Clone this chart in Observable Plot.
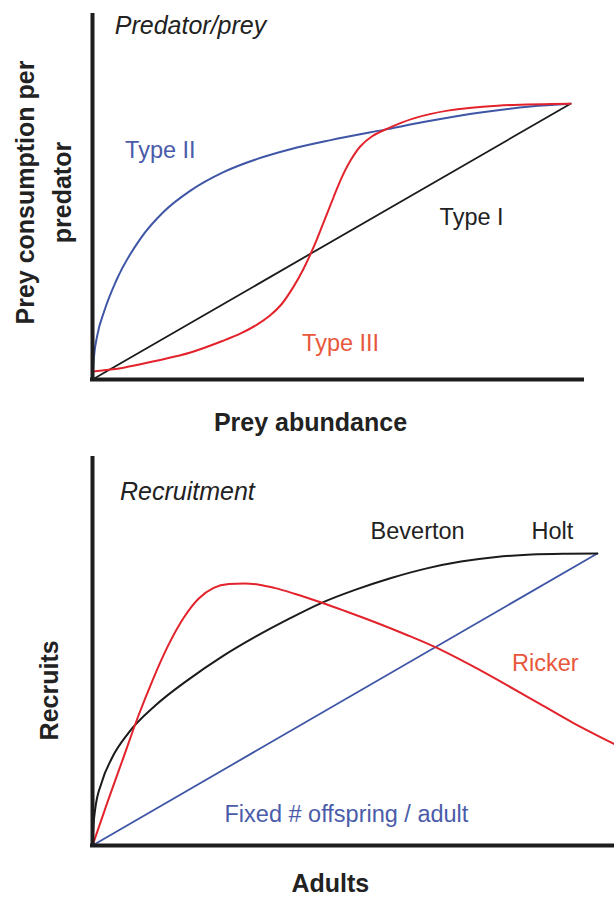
<!DOCTYPE html>
<html><head><meta charset="utf-8">
<script src="https://cdn.jsdelivr.net/npm/d3@7"></script>
<script src="https://cdn.jsdelivr.net/npm/@observablehq/plot@0.6"></script>
<style>
body{margin:0;background:#fff;}
#chart svg{display:block;}
</style></head><body><div id="chart"></div>
<script>
// ---------- Data: top panel (Predator/prey functional responses) ----------
const typeI_x = [0, 1];
const typeI_y = [0, 1];

const typeII_x = [0, 0.003, 0.01, 0.025, 0.05, 0.1, 0.15, 0.205, 0.274, 0.345, 0.414, 0.498, 0.617, 0.707, 0.812, 0.916, 1.0];
const typeII_y = [0, 0.08, 0.16, 0.25, 0.36, 0.51, 0.61, 0.685, 0.752, 0.80, 0.835, 0.868, 0.908, 0.938, 0.968, 0.99, 1.0];

const typeIII_x = [0, 0.065, 0.136, 0.205, 0.274, 0.31, 0.345, 0.37, 0.395, 0.42, 0.441, 0.462, 0.483, 0.504, 0.522, 0.54, 0.56, 0.585, 0.617, 0.672, 0.743, 0.847, 1.0];
const typeIII_y = [0.029, 0.043, 0.069, 0.098, 0.141, 0.167, 0.2, 0.23, 0.272, 0.335, 0.40, 0.478, 0.568, 0.66, 0.735, 0.795, 0.845, 0.882, 0.91, 0.947, 0.975, 0.993, 1.0];

// ---------- Data: bottom panel (Recruitment) ----------
const fixed_x = [0, 1];
const fixed_y = [0, 1];

const bh_x = [0, 0.002, 0.005, 0.018, 0.038, 0.071, 0.125, 0.19, 0.255, 0.323, 0.388, 0.453, 0.52, 0.59, 0.66, 0.73, 0.80, 0.87, 0.94, 1.0];
const bh_y = [0, 0.07, 0.12, 0.215, 0.298, 0.385, 0.48, 0.568, 0.645, 0.715, 0.775, 0.83, 0.875, 0.915, 0.948, 0.972, 0.988, 0.996, 0.999, 1.0];

const ricker_x = [0, 0.03, 0.06, 0.09, 0.12, 0.15, 0.18, 0.21, 0.24, 0.27, 0.30, 0.33, 0.36, 0.40, 0.453, 0.50, 0.556, 0.624, 0.679, 0.754, 0.822, 0.887, 0.952, 1.034];
const ricker_y = [0, 0.15, 0.295, 0.44, 0.57, 0.685, 0.778, 0.845, 0.882, 0.895, 0.897, 0.893, 0.882, 0.862, 0.832, 0.803, 0.767, 0.72, 0.679, 0.613, 0.548, 0.484, 0.42, 0.347];

// ---------- Labels ----------
const topTitle = "Predator/prey";
const topXLabel = "Prey abundance";
const topYLabel = ["Prey consumption per", "predator"];
const botTitle = "Recruitment";
const botXLabel = "Adults";
const botYLabel = "Recruits";

// ---------- Styling ----------
const font = "'Liberation Sans', Arial, Helvetica, sans-serif";
const BLACK = "#1b1b1b", BLUE = "#3f56a6", RED = "#e3232b";
const TXT = "#222", TXT_BLUE = "#4a5ca9", TXT_RED = "#e8573b";
const AXIS = "#1d1d1d";

function pts(xs, ys) { return xs.map((x, i) => ({x, y: ys[i]})); }

function lbl(text, x, y, opts = {}) {
  return Plot.text([text], {
    x, y, text: d => d,
    textAnchor: "middle", lineAnchor: "bottom",
    fontSize: 23.5, fill: TXT, ...opts
  });
}

const topPlot = Plot.plot({
  width: 614, height: 440,
  marginLeft: 92, marginRight: 32, marginTop: 15, marginBottom: 61,
  x: {domain: [0, 1.025], axis: null},
  y: {domain: [0, 1.32], axis: null},
  style: {fontFamily: font, background: "white", overflow: "visible"},
  marks: [
    Plot.line(pts(typeI_x, typeI_y), {x: "x", y: "y", stroke: BLACK, strokeWidth: 1.8}),
    Plot.line(pts(typeII_x, typeII_y), {x: "x", y: "y", stroke: BLUE, strokeWidth: 2, curve: "monotone-x"}),
    Plot.line(pts(typeIII_x, typeIII_y), {x: "x", y: "y", stroke: RED, strokeWidth: 2, curve: "catmull-rom"}),
    Plot.ruleX([0], {stroke: AXIS, strokeWidth: 4, strokeLinecap: "square"}),
    Plot.ruleY([0], {stroke: AXIS, strokeWidth: 4, strokeLinecap: "square"}),
    lbl(topTitle, 0.205, 1.254, {fontStyle: "italic", fontSize: 25}),
    lbl("Type II", 0.142, 0.804, {fill: TXT_BLUE}),
    lbl("Type I", 0.793, 0.562),
    lbl("Type III", 0.519, 0.105, {fill: TXT_RED}),
    lbl(topXLabel, 0.456, -0.185, {fontWeight: "bold", fontSize: 25}),
    lbl(topYLabel[0], -0.123, 0.678, {fontWeight: "bold", fontSize: 25, rotate: -90}),
    lbl(topYLabel[1], -0.046, 0.678, {fontWeight: "bold", fontSize: 25, rotate: -90})
  ]
});

const botPlot = Plot.plot({
  width: 614, height: 458,
  marginLeft: 92, marginRight: 0, marginTop: 18, marginBottom: 53,
  x: {domain: [0, 1.034], axis: null},
  y: {domain: [0, 1.325], axis: null},
  style: {fontFamily: font, background: "white", overflow: "visible"},
  marks: [
    Plot.line(pts(fixed_x, fixed_y), {x: "x", y: "y", stroke: BLUE, strokeWidth: 1.8}),
    Plot.line(pts(bh_x, bh_y), {x: "x", y: "y", stroke: BLACK, strokeWidth: 2, curve: "monotone-x"}),
    Plot.line(pts(ricker_x, ricker_y), {x: "x", y: "y", stroke: RED, strokeWidth: 2, curve: "monotone-x"}),
    Plot.ruleX([0], {stroke: AXIS, strokeWidth: 4, strokeLinecap: "square"}),
    Plot.ruleY([0], {stroke: AXIS, strokeWidth: 4, strokeLinecap: "square"}),
    lbl(botTitle, 0.188, 1.182, {fontStyle: "italic", fontSize: 25}),
    lbl("Beverton", 0.644, 1.051),
    lbl("Holt", 0.911, 1.051),
    lbl("Ricker", 0.897, 0.599, {fill: TXT_RED}),
    lbl("Fixed # offspring / adult", 0.503, 0.079, {fill: TXT_BLUE}),
    lbl(botXLabel, 0.471, -0.158, {fontWeight: "bold", fontSize: 25}),
    lbl(botYLabel, -0.069, 0.531, {fontWeight: "bold", fontSize: 25, rotate: -90})
  ]
});

document.getElementById("chart").append(topPlot, botPlot);
</script>
</body></html>
